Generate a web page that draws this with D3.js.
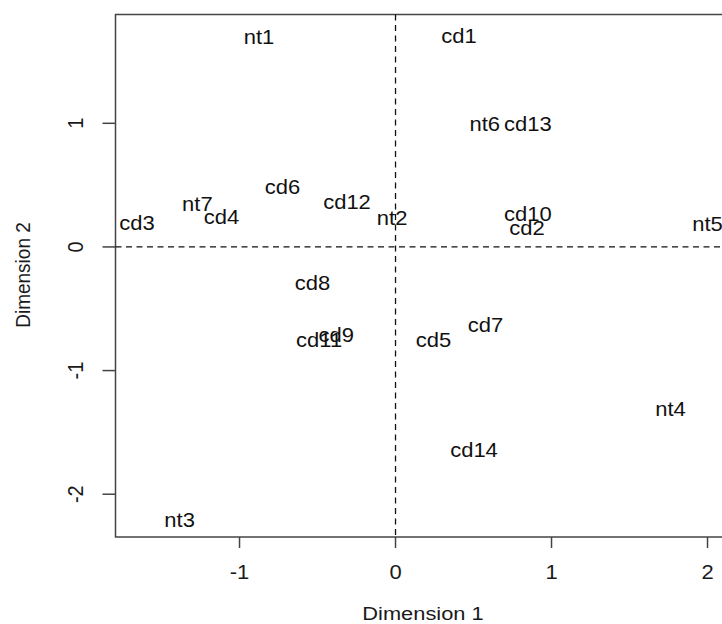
<!DOCTYPE html>
<html>
<head>
<meta charset="utf-8">
<script src="https://cdn.jsdelivr.net/npm/d3@7"></script>
<style>
  body { margin: 0; background: #fff; }
  text { font-family: "Liberation Sans", Arial, sans-serif; }
</style>
</head>
<body>
<div id="chart"></div>
<script>
// labels and their coordinates on the two dimensions
var labels = ["nt1", "cd1", "nt6", "cd13", "cd6", "cd12", "nt7", "cd4", "cd3", "nt2",
  "cd10", "cd2", "nt5", "cd8", "cd11", "cd9", "cd7", "cd5", "nt4", "cd14", "nt3"];
var dim1 = [-0.875, 0.407, 0.572, 0.849, -0.724, -0.311, -1.27, -1.115, -1.657, -0.022,
  0.849, 0.843, 2.0, -0.532, -0.49, -0.38, 0.577, 0.244, 1.763, 0.503, -1.384];
var dim2 = [1.70, 1.71, 0.995, 0.995, 0.488, 0.364, 0.348, 0.24, 0.197, 0.235,
  0.27, 0.156, 0.186, -0.294, -0.753, -0.712, -0.634, -0.755, -1.313, -1.645, -2.211];

var xTicks = [-1, 0, 1, 2];
var yTicks = [-2, -1, 0, 1];

var svgWidth = 722;
var svgHeight = 624;

var margin = { top: 14.5, left: 115.5, bottom: 87 };

// the original is a little stretched sideways, so text gets a small x scale
var stretch = 1.1;

var svg = d3.select("#chart")
  .append("svg")
  .attr("width", svgWidth)
  .attr("height", svgHeight);

var x = d3.scaleLinear()
  .domain([-1.795, 2.18])
  .range([margin.left, margin.left + 3.975 * 156]);

var y = d3.scaleLinear()
  .domain([-2.346, 1.88])
  .range([svgHeight - margin.bottom, margin.top]);

var axisColor = "#444";
var ink = "#1a1a1a";

// plot box
svg.append("rect")
  .attr("x", x.range()[0])
  .attr("y", y.range()[1])
  .attr("width", x.range()[1] - x.range()[0])
  .attr("height", y.range()[0] - y.range()[1])
  .attr("fill", "none")
  .attr("stroke", axisColor)
  .attr("stroke-width", 1.5);

// dashed reference lines at zero
svg.append("line")
  .attr("x1", x.range()[0]).attr("x2", x.range()[1])
  .attr("y1", y(0)).attr("y2", y(0))
  .attr("stroke", "#111")
  .attr("stroke-dasharray", "6,4.5")
  .attr("stroke-width", 1.3);

svg.append("line")
  .attr("x1", x(0)).attr("x2", x(0))
  .attr("y1", y.range()[1]).attr("y2", y.range()[0])
  .attr("stroke", "#111")
  .attr("stroke-dasharray", "6,4.5")
  .attr("stroke-width", 1.3);

// x axis ticks
var xAxis = svg.append("g");
xAxis.selectAll("line")
  .data(xTicks)
  .enter()
  .append("line")
  .attr("x1", d => x(d)).attr("x2", d => x(d))
  .attr("y1", y.range()[0]).attr("y2", y.range()[0] + 11)
  .attr("stroke", axisColor)
  .attr("stroke-width", 1.5);

xAxis.selectAll("text")
  .data(xTicks)
  .enter()
  .append("text")
  .attr("transform", d => `translate(${x(d)}, 579) scale(${stretch}, 1)`)
  .attr("text-anchor", "middle")
  .attr("font-size", 20)
  .attr("fill", ink)
  .text(d => d);

// y axis ticks
var yAxis = svg.append("g");
yAxis.selectAll("line")
  .data(yTicks)
  .enter()
  .append("line")
  .attr("x1", x.range()[0] - 13).attr("x2", x.range()[0])
  .attr("y1", d => y(d)).attr("y2", d => y(d))
  .attr("stroke", axisColor)
  .attr("stroke-width", 1.5);

yAxis.selectAll("text")
  .data(yTicks)
  .enter()
  .append("text")
  .attr("transform", d => `translate(83, ${y(d)}) scale(${stretch}, 1) rotate(-90)`)
  .attr("text-anchor", "middle")
  .attr("font-size", 20)
  .attr("fill", ink)
  .text(d => d);

// axis titles
svg.append("text")
  .attr("transform", `translate(423, 620) scale(${stretch + 0.05}, 1)`)
  .attr("text-anchor", "middle")
  .attr("font-size", 19)
  .attr("fill", ink)
  .text("Dimension 1");

svg.append("text")
  .attr("transform", `translate(30, 275) scale(${stretch}, 1) rotate(-90)`)
  .attr("text-anchor", "middle")
  .attr("font-size", 19)
  .attr("fill", ink)
  .text("Dimension 2");

// point labels
svg.append("g")
  .selectAll("text")
  .data(labels)
  .enter()
  .append("text")
  .attr("transform", (d, i) => `translate(${x(dim1[i])}, ${y(dim2[i])}) scale(${stretch}, 1)`)
  .attr("dy", "0.35em")
  .attr("text-anchor", "middle")
  .attr("font-size", 20)
  .attr("fill", "#111")
  .text(d => d);
</script>
</body>
</html>
